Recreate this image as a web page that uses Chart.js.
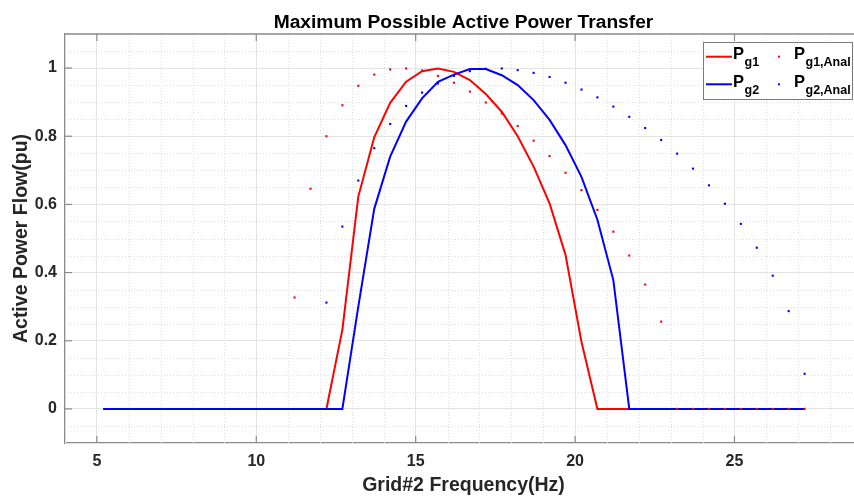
<!DOCTYPE html>
<html><head><meta charset="utf-8">
<script src="https://cdn.jsdelivr.net/npm/chart.js@4.4.0/dist/chart.umd.min.js"></script>
<style>
html,body{margin:0;padding:0;overflow:hidden;background:#fff;width:854px;height:498px}
#wrap{width:866px;height:498px;position:relative}
</style></head>
<body><div id="wrap"><canvas id="c" width="866" height="498"></canvas></div>
<script>
// ---- data ----
const freq = [5.2,5.7,6.2,6.7,7.2,7.7,8.2,8.7,9.2,9.7,10.2,10.7,11.2,11.7,12.2,12.7,13.2,13.7,14.2,14.7,15.2,15.7,16.2,16.7,17.2,17.7,18.2,18.7,19.2,19.7,20.2,20.7,21.2,21.7,22.2,22.7,23.2,23.7,24.2,24.7,25.2,25.7,26.2,26.7,27.2];
const pg1 = [0,0,0,0,0,0,0,0,0,0,0,0,0,0,0,
  0.232,0.623,0.797,0.898,0.960,0.991,0.999,0.989,0.965,0.924,0.872,0.800,0.711,0.603,0.452,0.197,
  0,0,0,0,0,0,0,0,0,0,0,0,0,0];
const pg2 = [0,0,0,0,0,0,0,0,0,0,0,0,0,0,0,0,
  0.300,0.587,0.740,0.843,0.911,0.960,0.981,0.997,0.997,0.979,0.950,0.906,0.848,0.774,0.681,0.555,0.378,
  0,0,0,0,0,0,0,0,0,0,0,0];
const pg1Anal = [null,null,null,null,null,null,null,null,null,null,null,null,
  0.327,0.646,0.800,0.891,0.948,0.981,0.996,0.999,0.993,0.977,0.957,0.931,0.899,0.867,0.830,0.787,0.742,0.693,0.642,0.584,0.520,0.450,0.365,0.256,
  0,0,0,0,0,0,0,0,0];
const pg2Anal = [null,null,null,null,null,null,null,null,null,null,null,null,null,null,
  0.312,0.535,0.670,0.765,0.836,0.889,0.928,0.955,0.977,0.991,0.998,0.999,0.994,0.986,0.974,0.957,0.937,0.914,0.887,0.857,0.824,0.789,0.749,0.705,0.656,0.602,0.543,0.473,0.391,0.287,0.103];
const xTicks = [5,10,15,20,25];
const yTicks = [0,0.2,0.4,0.6,0.8,1];
const yTickLabels = ['0','0.2','0.4','0.6','0.8','1'];
const seriesSubs = ['g1','g2','g1,Anal','g2,Anal'];
const titleText = 'Maximum Possible Active Power Transfer';
const xTitle = 'Grid#2 Frequency(Hz)';
const yTitle = 'Active Power Flow(pu)';

// ---- style ----
const FONT = '"Liberation Sans", Arial, Helvetica, sans-serif';
const TXT = '#262626';
const AXC = '#8a8a8a';
const RED = '#ff0000', BLUE = '#0000ff';

const pts = arr => freq.map((f,i)=>({x:f, y:arr[i]}));

const deco = {
  id:'deco',
  beforeDatasetsDraw(chart){
    const {ctx, chartArea:a, scales:{x, y}} = chart;
    ctx.save();
    ctx.strokeStyle = '#dedede';
    ctx.lineWidth = 1;
    ctx.setLineDash([1,2]);
    for (let v = 4; v <= 29; v++) {
      if (xTicks.includes(v)) continue;
      const px = Math.round(x.getPixelForValue(v)) + 0.5;
      ctx.beginPath(); ctx.moveTo(px, a.top); ctx.lineTo(px, a.bottom); ctx.stroke();
    }
    for (let k = -1; k <= 21; k++) {
      if (k % 4 === 0) continue;
      const py = Math.round(y.getPixelForValue(k*0.05)) + 0.5;
      ctx.beginPath(); ctx.moveTo(a.left, py); ctx.lineTo(a.right, py); ctx.stroke();
    }
    ctx.restore();
  },
  afterDatasetsDraw(chart){
    const {ctx, chartArea:a, scales:{x, y}} = chart;
    ctx.save();
    // top border
    ctx.strokeStyle = AXC; ctx.lineWidth = 1.3;
    ctx.beginPath(); ctx.moveTo(a.left, a.top); ctx.lineTo(a.right, a.top); ctx.stroke();
    // inside ticks
    ctx.lineWidth = 1.2;
    const TL = 7;
    xTicks.forEach(v => {
      const px = x.getPixelForValue(v);
      ctx.beginPath(); ctx.moveTo(px, a.bottom); ctx.lineTo(px, a.bottom - TL); ctx.stroke();
      ctx.beginPath(); ctx.moveTo(px, a.top); ctx.lineTo(px, a.top + TL); ctx.stroke();
    });
    yTicks.forEach(v => {
      const py = y.getPixelForValue(v);
      ctx.beginPath(); ctx.moveTo(a.left, py); ctx.lineTo(a.left + TL, py); ctx.stroke();
    });
    // title
    ctx.fillStyle = '#000';
    ctx.font = 'bold 19.2px ' + FONT;
    ctx.textAlign = 'center'; ctx.textBaseline = 'alphabetic';
    ctx.fillText(titleText, (a.left + a.right)/2, 27.5);
    // legend
    const bx = 703, by = 42, bw = 149, bh = 57;
    ctx.fillStyle = '#fff';
    ctx.fillRect(bx, by, bw, bh);
    ctx.strokeStyle = '#7a7a7a'; ctx.lineWidth = 1;
    ctx.strokeRect(bx + 0.5, by + 0.5, bw, bh);
    const ds = chart.data.datasets;
    const rows = [56.7, 84.3];
    const cols = [{sym:706, txt:733}, {sym:779, txt:794}];
    const order = [[0,2],[1,3]];
    ctx.textAlign = 'left';
    order.forEach((row, r) => {
      row.forEach((di, c) => {
        const d = ds[di];
        const yy = rows[r];
        if (c === 0) {
          ctx.strokeStyle = d.borderColor; ctx.lineWidth = 2;
          ctx.beginPath(); ctx.moveTo(cols[c].sym, yy); ctx.lineTo(cols[c].sym + 26, yy); ctx.stroke();
        } else {
          ctx.fillStyle = d.backgroundColor;
          ctx.fillRect(cols[c].sym - 1, yy - 1, 2, 2);
        }
        ctx.fillStyle = '#000';
        ctx.font = 'bold 16.5px ' + FONT;
        ctx.fillText('P', cols[c].txt, yy + 2.5);
        const pw = ctx.measureText('P').width;
        ctx.font = 'bold 12.5px ' + FONT;
        ctx.fillText(seriesSubs[di], cols[c].txt + pw + 0.5, yy + 9.5);
      });
    });
    ctx.restore();
  }
};

new Chart(document.getElementById('c'), {
  type: 'line',
  data: {
    datasets: [
      {label:'Pg1', data: pts(pg1), borderColor: RED, backgroundColor: RED, borderWidth: 2, pointRadius: 0, tension: 0, order: 4},
      {label:'Pg2', data: pts(pg2), borderColor: BLUE, backgroundColor: BLUE, borderWidth: 2, pointRadius: 0, tension: 0, order: 3},
      {label:'Pg1,Anal', data: pts(pg1Anal), showLine: false, borderColor: RED, backgroundColor: RED, borderWidth: 0, pointStyle: 'rect', pointRadius: 1.5, pointHoverRadius: 1.5, order: 2},
      {label:'Pg2,Anal', data: pts(pg2Anal), showLine: false, borderColor: BLUE, backgroundColor: BLUE, borderWidth: 0, pointStyle: 'rect', pointRadius: 1.5, pointHoverRadius: 1.5, order: 1}
    ]
  },
  options: {
    responsive: false,
    animation: false,
    devicePixelRatio: 1,
    layout: {padding: {top: 34, right: 4, bottom: 0, left: 0}},
    plugins: {legend: {display: false}, tooltip: {enabled: false}, title: {display: false}},
    scales: {
      x: {
        type: 'linear', min: 4, max: 29,
        afterBuildTicks: s => { s.ticks = xTicks.map(v => ({value: v})); },
        afterFit: s => { s.height = 55; },
        grid: {color: '#e3e3e3', lineWidth: 1, drawTicks: false},
        border: {color: AXC, width: 1.3},
        ticks: {padding: 9, color: TXT, maxRotation: 0, autoSkip: false,
          font: {family: FONT, size: 16, weight: 'bold'}, callback: v => String(v)},
        title: {display: true, text: xTitle, color: TXT,
          font: {family: FONT, size: 19.5, weight: 'bold'}, padding: {top: 0, bottom: 0.5}}
      },
      y: {
        type: 'linear', min: -0.1, max: 1.1,
        afterBuildTicks: s => { s.ticks = yTicks.map(v => ({value: v})); },
        afterFit: s => { s.width = 65; },
        grid: {color: '#e3e3e3', lineWidth: 1, drawTicks: false},
        border: {color: AXC, width: 1.3},
        ticks: {padding: 8, color: TXT, autoSkip: false,
          font: {family: FONT, size: 16, weight: 'bold'},
          callback: (v, i) => yTickLabels[i]},
        title: {display: true, text: yTitle, color: TXT,
          font: {family: FONT, size: 19.5, weight: 'bold'}, padding: {top: 10.3, bottom: 0}}
      }
    }
  },
  plugins: [deco]
});
</script>
</body></html>
